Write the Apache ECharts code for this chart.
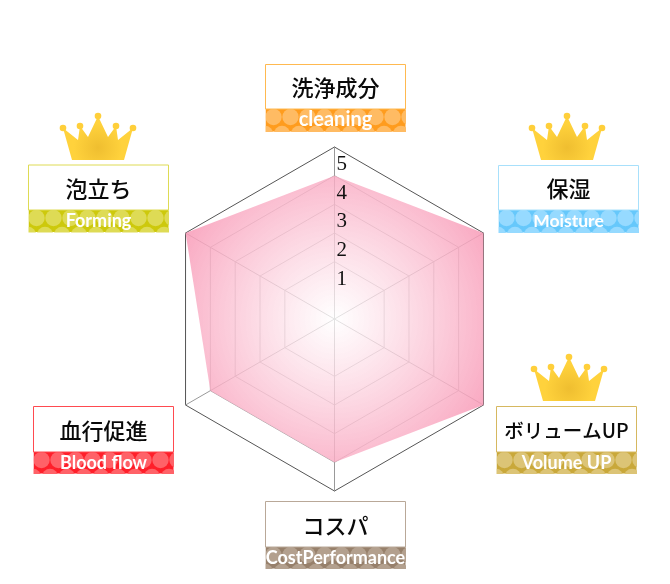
<!DOCTYPE html>
<html><head><meta charset="utf-8">
<style>html,body{margin:0;padding:0;background:#fff}#c{width:670px;height:584px}</style>
<script src="https://cdn.jsdelivr.net/npm/echarts@6/dist/echarts.min.js"></script>
</head><body><div id="c"></div>
<script>
const categories = ['洗浄成分','泡立ち','血行促進','コスパ','ボリュームUP','保湿'];
const subtitles = ['cleaning','Forming','Blood flow','CostPerformance','Volume UP','Moisture'];
const values = [4,5,4,4,5,5];
const tickLabels = [1,2,3,4,5];
const crowned = [false,true,false,false,true,true];

const layout = [
  {x:265.5,y:64.5,band:109,c:'#ff9c1e',d:'#ffbb63',b:'#ffb950',fs:22,ss:20},
  {x:28.5,y:165,band:210,c:'#cdc90c',d:'#dedb55',b:'#dedb55',fs:22,ss:18},
  {x:33.5,y:406.5,band:452,c:'#ff1f2a',d:'#ff6268',b:'#ff4a50',fs:22,ss:18},
  {x:265.5,y:501.5,band:547,c:'#97806b',d:'#b3a08e',b:'#b9a898',fs:22,ss:18},
  {x:496.5,y:406.5,band:452,c:'#c9a83a',d:'#dcc476',b:'#d6b860',fs:19.5,ss:18},
  {x:498.5,y:165.5,band:210,c:'#66c8fb',d:'#96daff',b:'#a8e0fb',fs:22,ss:17.5}
];
const crownAt = [null,{x:98,y:116},null,null,{x:569,y:357},{x:567,y:116}];
const W=140,H=67;

function badge(i){
  const L=layout[i], els=[];
  for(let r=-1;r<=1;r++){
    const main=r===0;
    for(let k=main?0:-1;k<=(main?8:7);k++){
      const off=main?0:8.5;
      els.push({type:'circle',silent:true,shape:{cx:L.x+8+k*17+off,cy:L.band+8+r*17,r:8.2},style:{fill:L.d}});
    }
  }
  return [
    {type:'rect',silent:true,shape:{x:L.x,y:L.band,width:W,height:L.y+H-L.band},style:{fill:L.c}},
    ...els,
    {type:'rect',silent:true,shape:{x:L.x-13,y:L.band-20,width:13,height:L.y+H-L.band+34},style:{fill:'#fff'}},
    {type:'rect',silent:true,shape:{x:L.x+W+.5,y:L.band-20,width:13,height:L.y+H-L.band+34},style:{fill:'#fff'}},
    {type:'rect',silent:true,shape:{x:L.x-13,y:L.y+H+.5,width:W+26,height:12},style:{fill:'#fff'}},
    {type:'rect',silent:true,shape:{x:L.x,y:L.y,width:W,height:L.band-L.y},style:{fill:'#fff',stroke:L.b,lineWidth:1}},
    {type:'text',silent:true,style:{x:L.x+W/2,y:(L.y+L.band)/2+1,text:categories[i],align:'center',verticalAlign:'middle',
      font:'500 '+L.fs+'px "Noto Sans CJK JP"',fill:'#0a0a0a',shadowColor:'rgba(0,0,0,.5)',shadowBlur:3,shadowOffsetX:1,shadowOffsetY:1}},
    {type:'text',silent:true,style:{x:L.x+W/2,y:L.band+11,text:subtitles[i],align:'center',verticalAlign:'middle',
      font:'700 '+L.ss+'px Lato',fill:'#fff',shadowColor:'rgba(255,255,255,.6)',shadowBlur:2}}
  ];
}
function crown(p){
  const q=[[-26,44],[-35,12],[-20,24],[-18,10],[-10,21],[0,0],[10,21],[18,10],[20,24],[35,12],[26,44]].map(a=>[p.x+a[0],p.y+a[1]]);
  const fill={type:'radial',x:.5,y:.72,r:.55,colorStops:[{offset:0,color:'#efbe30'},{offset:1,color:'#ffd23c'}]};
  return [
    {type:'polygon',silent:true,shape:{points:q},style:{fill}},
    ...[[-35,12],[-18,10],[0,0],[18,10],[35,12]].map(a=>({type:'circle',silent:true,shape:{cx:p.x+a[0],cy:p.y+a[1],r:3.3},style:{fill:'#ffcf3a'}}))
  ];
}
let gfx=[];
categories.forEach((_,i)=>{gfx=gfx.concat(badge(i)); if(crowned[i]) gfx=gfx.concat(crown(crownAt[i]));});

const labelIndicators = categories.map((name,i)=>{
  const o={name,min:-1,max:5};
  if(i===0) o.axisLabel={show:true,showMaxLabel:true,hideOverlap:false,margin:-2,align:'left',verticalAlign:'top',
    rich:{
      s:{lineHeight:28,fontSize:1,width:0},
      a:{lineHeight:23,verticalAlign:'bottom',color:'#111',fontFamily:'"Liberation Serif"',fontSize:21}
    },
    formatter:v=>tickLabels.includes(v)?'{s| }{a|'+v+'}':''};
  return o;
});
const chart=echarts.init(document.getElementById('c'),null,{renderer:'canvas'});
chart.setOption({
  animation:false,
  radar:[{
    center:[334.5,319],radius:172,startAngle:90,splitNumber:6,shape:'polygon',z:0,
    indicator:categories.map(name=>({name,min:-1,max:5})),
    axisName:{show:false},
    axisLabel:{show:false},
    axisTick:{show:false},
    axisLine:{show:true,lineStyle:{color:'#999',width:1}},
    splitArea:{show:false},
    splitLine:{show:true,lineStyle:{width:1,color:['rgba(0,0,0,0)','rgba(0,0,0,0)','#aaa','#aaa','#aaa','#aaa','#555']}}
  },{
    center:[334.5,319],radius:172,startAngle:90,splitNumber:6,shape:'polygon',z:5,
    indicator:labelIndicators,
    axisName:{show:false},
    axisLabel:{show:false},
    axisTick:{show:false},
    axisLine:{show:false},
    splitArea:{show:false},
    splitLine:{show:false}
  }],
  series:[{type:'radar',radarIndex:0,silent:true,symbol:'none',lineStyle:{width:0},z:2,
    areaStyle:{opacity:1,color:{type:'radial',x:.5,y:.5,r:.62,colorStops:[
      {offset:0,color:'rgba(255,255,255,.72)'},{offset:1,color:'rgba(248,150,180,.85)'}]}},
    data:[{value:values}]}],
  graphic:{elements:gfx}
});
</script></body></html>
